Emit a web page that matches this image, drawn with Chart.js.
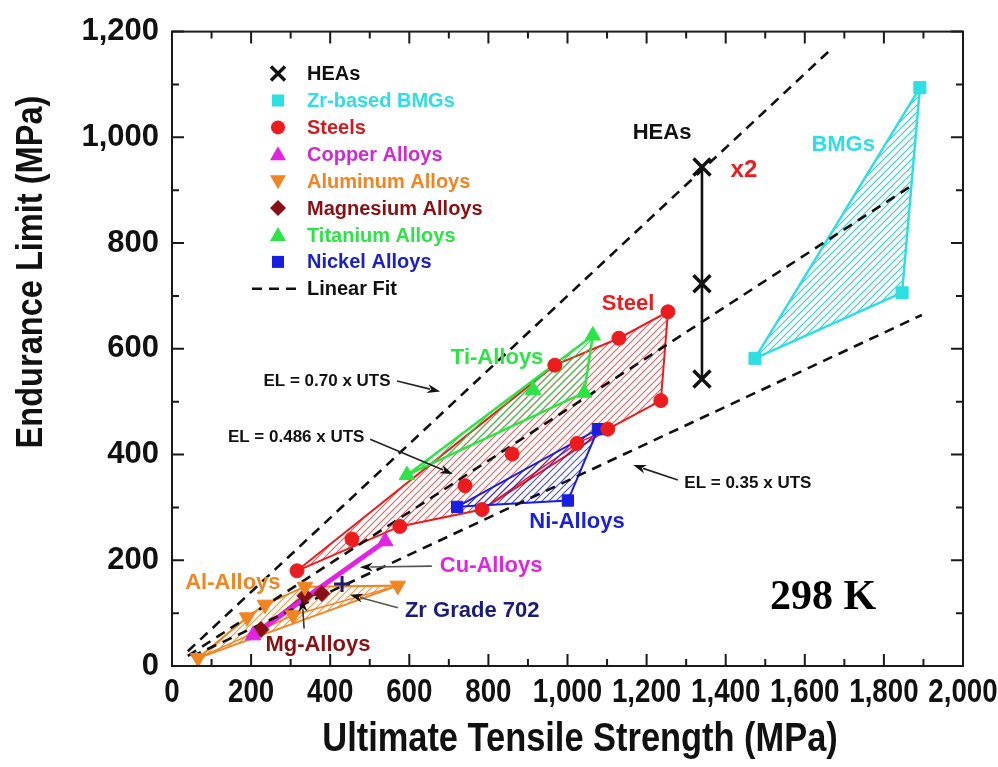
<!DOCTYPE html>
<html>
<head>
<meta charset="utf-8">
<script src="https://cdn.jsdelivr.net/npm/chart.js@4.4.1/dist/chart.umd.min.js"></script>
<style>
html, body { margin: 0; padding: 0; background: #fff; }
canvas { display: block; }
</style>
</head>
<body>
<canvas id="grafica" width="998" height="767"></canvas>
<script>
// Resistencia a la traccion (UTS) y limite de fatiga (EL), en MPa
const heaUTS = [1340, 1340, 1340];
const heaEL  = [944, 723, 543];
const bmgUTS = [1474, 1846, 1891];
const bmgEL  = [582, 706, 1094];
const steelUTS = [316, 455, 576, 741, 784, 860, 968, 1024, 1102, 1130, 1236, 1254];
const steelEL  = [180, 240, 264, 341, 296, 401, 569, 421, 448, 620, 502, 670];
const cuUTS = [205, 539];
const cuEL  = [58, 236];
const alUTS = [66, 190, 235, 306, 336, 571];
const alEL  = [15, 92, 116, 96, 150, 152];
const mgUTS = [225, 336, 379];
const mgEL  = [69, 133, 137];
const tiUTS = [594, 913, 1064, 1042];
const tiEL  = [361, 522, 625, 517];
const niUTS = [721, 1001, 1077];
const niEL  = [301, 313, 448];
const zrUTS = [430];
const zrEL  = [155];

// contornos de cada familia (indices de los puntos)
const steelHull = [0, 6, 9, 11, 10, 8, 4, 2, 0];
const steelInner = [4, 7, 8];
const tiHull = [0, 2, 3, 0];
const niHull = [0, 1, 2, 0];
const alHull = [0, 1, 2, 4, 5, 0];
const alInner = [0, 3, 5];
const bmgHull = [0, 1, 2, 0];

// ajustes lineales (extremos)
const fitNames = ['EL = 0.70 x UTS', 'EL = 0.486 x UTS', 'EL = 0.35 x UTS'];
const fitUTS = [[40, 1664], [40, 1873], [50, 1896]];
const fitEL  = [[28, 1165], [19, 910], [18, 664]];

// ejes
const xTicks = [0, 200, 400, 600, 800, 1000, 1200, 1400, 1600, 1800, 2000];
const yTicks = [0, 200, 400, 600, 800, 1000, 1200];

const NEGRO = '#111111';
const CIAN = 'rgb(45,222,226)';
const ROJO = 'rgb(236,28,30)';
const MAGENTA = 'rgb(226,36,226)';
const NARANJA = 'rgb(242,132,34)';
const GRANATE = 'rgb(136,16,20)';
const VERDE = 'rgb(44,228,70)';
const AZUL = 'rgb(24,30,226)';
const MARINO = 'rgb(28,28,120)';
const FUENTE = '"Liberation Sans", Arial, Helvetica, sans-serif';

function pts(xs, ys, idx) {
    if (!idx) idx = xs.map((v, i) => i);
    return idx.map(i => ({ x: xs[i], y: ys[i] }));
}

function rayado(color) {
    var s = 7;
    var c = document.createElement('canvas');
    c.width = s; c.height = s;
    var g = c.getContext('2d');
    g.strokeStyle = color;
    g.lineWidth = 1.1;
    g.beginPath();
    g.moveTo(0, s); g.lineTo(s, 0);
    g.moveTo(-1, 1); g.lineTo(1, -1);
    g.moveTo(s - 1, s + 1); g.lineTo(s + 1, s - 1);
    g.stroke();
    return g.createPattern(c, 'repeat');
}

function marcadores(label, xs, ys, estilo, color, radio, extra) {
    return Object.assign({
        label: label,
        data: pts(xs, ys),
        showLine: false,
        pointStyle: estilo,
        pointRadius: radio,
        pointBackgroundColor: color,
        pointBorderColor: color,
        pointBorderWidth: 1
    }, extra || {});
}

function contorno(xs, ys, idx, color, ancho, relleno) {
    return {
        label: '',
        data: pts(xs, ys, idx),
        borderColor: color,
        borderWidth: ancho,
        pointRadius: 0,
        fill: relleno ? 'shape' : false,
        backgroundColor: relleno || 'transparent'
    };
}

var datasets = [
    marcadores('HEAs', heaUTS, heaEL, 'crossRot', NEGRO, 12, { pointBorderWidth: 3.5 }),
    marcadores('Zr-based BMGs', bmgUTS, bmgEL, 'rect', CIAN, 8.5),
    marcadores('Steels', steelUTS, steelEL, 'circle', ROJO, 7),
    marcadores('Copper Alloys', cuUTS, cuEL, 'triangle', MAGENTA, 9),
    marcadores('Aluminum Alloys', alUTS, alEL, 'triangle', NARANJA, 9, { pointRotation: 180 }),
    marcadores('Magnesium Alloys', mgUTS, mgEL, 'rectRot', GRANATE, 8),
    marcadores('Titanium Alloys', tiUTS, tiEL, 'triangle', VERDE, 9),
    marcadores('Nickel Alloys', niUTS, niEL, 'rect', AZUL, 8),
    marcadores('Zr Grade 702', zrUTS, zrEL, 'cross', MARINO, 8, { pointBorderWidth: 3 })
];
for (var i = 0; i < fitNames.length; i++) {
    datasets.push({
        label: fitNames[i],
        data: pts(fitUTS[i], fitEL[i]),
        borderColor: NEGRO,
        borderWidth: 2.6,
        borderDash: [10, 7],
        pointRadius: 0,
        fill: false
    });
}
datasets.push(contorno(heaUTS, heaEL, null, NEGRO, 2.6, null));
datasets.push(contorno(cuUTS, cuEL, null, MAGENTA, 5, null));
datasets.push(contorno(mgUTS, mgEL, null, GRANATE, 3, null));
datasets.push(contorno(alUTS, alEL, alInner, NARANJA, 1.5, null));
datasets.push(contorno(alUTS, alEL, alHull, NARANJA, 2, rayado('rgba(242,132,34,0.85)')));
datasets.push(contorno(tiUTS, tiEL, tiHull, VERDE, 2.5, rayado('rgba(44,200,70,0.9)')));
datasets.push(contorno(niUTS, niEL, niHull, AZUL, 2, rayado('rgba(24,30,226,0.8)')));
datasets.push(contorno(steelUTS, steelEL, steelInner, ROJO, 1.5, null));
datasets.push(contorno(steelUTS, steelEL, steelHull, ROJO, 2, rayado('rgba(220,40,40,0.75)')));
datasets.push(contorno(bmgUTS, bmgEL, bmgHull, CIAN, 2.5, rayado('rgba(40,200,205,0.95)')));

// textos dentro de la grafica (en unidades de los datos)
var rotulos = [
    { t: 'EL = 0.70 x UTS', x: 392, y: 539, c: NEGRO, s: 17 },
    { t: 'EL = 0.486 x UTS', x: 314, y: 433, c: NEGRO, s: 17 },
    { t: 'EL = 0.35 x UTS', x: 1456, y: 346, c: NEGRO, s: 17 },
    { t: 'Cu-Alloys', x: 807, y: 189, c: MAGENTA, s: 22 },
    { t: 'Zr Grade 702', x: 759, y: 105, c: MARINO, s: 22 },
    { t: 'Al-Alloys', x: 154, y: 157, c: NARANJA, s: 22 },
    { t: 'Mg-Alloys', x: 369, y: 39, c: GRANATE, s: 22 },
    { t: 'Ti-Alloys', x: 822, y: 582, c: VERDE, s: 22 },
    { t: 'Steel', x: 1153, y: 685, c: ROJO, s: 22 },
    { t: 'Ni-Alloys', x: 1024, y: 273, c: AZUL, s: 22 },
    { t: 'BMGs', x: 1697, y: 985, c: CIAN, s: 22 },
    { t: 'HEAs', x: 1239, y: 1009, c: NEGRO, s: 22 },
    { t: 'x2', x: 1446, y: 938, c: ROJO, s: 24 }
];
var flechas = [
    { a: [569, 539], b: [678, 519], c: '#222' },
    { a: [501, 429], b: [710, 363], c: '#222' },
    { a: [1279, 352], b: [1166, 380], c: '#222' },
    { a: [657, 189], b: [475, 187], c: '#555' },
    { a: [571, 110], b: [450, 135], c: '#555' },
    { a: [334, 71], b: [329, 127], c: '#333' }
];
var leyenda = [
    { t: 'HEAs', m: 'x', c: NEGRO, tc: NEGRO },
    { t: 'Zr-based BMGs', m: 'cuadro', c: CIAN, tc: CIAN },
    { t: 'Steels', m: 'circulo', c: ROJO, tc: 'rgb(205,28,32)' },
    { t: 'Copper Alloys', m: 'triArriba', c: MAGENTA, tc: 'rgb(210,40,210)' },
    { t: 'Aluminum Alloys', m: 'triAbajo', c: NARANJA, tc: NARANJA },
    { t: 'Magnesium Alloys', m: 'rombo', c: GRANATE, tc: GRANATE },
    { t: 'Titanium Alloys', m: 'triArriba', c: VERDE, tc: VERDE },
    { t: 'Nickel Alloys', m: 'cuadro', c: AZUL, tc: 'rgb(28,32,200)' },
    { t: 'Linear Fit', m: 'guiones', c: NEGRO, tc: NEGRO }
];

function marcador(ctx, tipo, x, y, color) {
    ctx.save();
    ctx.fillStyle = color;
    ctx.strokeStyle = color;
    ctx.beginPath();
    if (tipo == 'x') {
        ctx.lineWidth = 3.5;
        ctx.moveTo(x - 7, y - 7); ctx.lineTo(x + 7, y + 7);
        ctx.moveTo(x + 7, y - 7); ctx.lineTo(x - 7, y + 7);
        ctx.stroke();
    } else if (tipo == 'cuadro') {
        ctx.fillRect(x - 6, y - 6, 12, 12);
    } else if (tipo == 'circulo') {
        ctx.arc(x, y, 7, 0, Math.PI * 2); ctx.fill();
    } else if (tipo == 'triArriba') {
        ctx.moveTo(x, y - 8); ctx.lineTo(x + 8, y + 6); ctx.lineTo(x - 8, y + 6); ctx.closePath(); ctx.fill();
    } else if (tipo == 'triAbajo') {
        ctx.moveTo(x, y + 8); ctx.lineTo(x + 8, y - 6); ctx.lineTo(x - 8, y - 6); ctx.closePath(); ctx.fill();
    } else if (tipo == 'rombo') {
        ctx.moveTo(x, y - 8); ctx.lineTo(x + 8, y); ctx.lineTo(x, y + 8); ctx.lineTo(x - 8, y); ctx.closePath(); ctx.fill();
    } else if (tipo == 'guiones') {
        ctx.lineWidth = 2.5;
        ctx.setLineDash([10, 7]);
        ctx.moveTo(x - 26, y); ctx.lineTo(x + 24, y);
        ctx.stroke();
    }
    ctx.restore();
}

function textoEstrecho(ctx, texto, x, y, sx) {
    ctx.save();
    ctx.translate(x, y);
    ctx.scale(sx, 1);
    ctx.fillText(texto, 0, 0);
    ctx.restore();
}

function flecha(ctx, x1, y1, x2, y2, color) {
    var ang = Math.atan2(y2 - y1, x2 - x1);
    var L = 13, W = 4.5;
    ctx.save();
    ctx.strokeStyle = color;
    ctx.lineWidth = 1.6;
    ctx.beginPath();
    ctx.moveTo(x1, y1);
    ctx.lineTo(x2 - Math.cos(ang) * L * 0.8, y2 - Math.sin(ang) * L * 0.8);
    ctx.stroke();
    ctx.fillStyle = '#111';
    ctx.beginPath();
    ctx.moveTo(x2, y2);
    ctx.lineTo(x2 - Math.cos(ang) * L - Math.sin(ang) * W, y2 - Math.sin(ang) * L + Math.cos(ang) * W);
    ctx.lineTo(x2 - Math.cos(ang) * L * 0.7, y2 - Math.sin(ang) * L * 0.7);
    ctx.lineTo(x2 - Math.cos(ang) * L + Math.sin(ang) * W, y2 - Math.sin(ang) * L - Math.cos(ang) * W);
    ctx.closePath();
    ctx.fill();
    ctx.restore();
}

const decorado = {
    id: 'decorado',
    afterDraw(chart) {
        var ctx = chart.ctx, a = chart.chartArea;
        var sx = chart.scales.x, sy = chart.scales.y;
        var px = v => sx.getPixelForValue(v), py = v => sy.getPixelForValue(v);
        ctx.save();

        // marco y marcas hacia dentro
        ctx.strokeStyle = '#1a1a1a';
        ctx.lineWidth = 2;
        ctx.strokeRect(a.left, a.top, a.right - a.left, a.bottom - a.top);
        ctx.beginPath();
        for (var i = 0; i < xTicks.length; i++) {
            var x = px(xTicks[i]);
            ctx.moveTo(x, a.bottom); ctx.lineTo(x, a.bottom - 12);
            ctx.moveTo(x, a.top); ctx.lineTo(x, a.top + 12);
            if (i < xTicks.length - 1) {
                var xm = px((xTicks[i] + xTicks[i + 1]) / 2);
                ctx.moveTo(xm, a.bottom); ctx.lineTo(xm, a.bottom - 7);
                ctx.moveTo(xm, a.top); ctx.lineTo(xm, a.top + 7);
            }
        }
        for (var j = 0; j < yTicks.length; j++) {
            var y = py(yTicks[j]);
            ctx.moveTo(a.left, y); ctx.lineTo(a.left + 12, y);
            ctx.moveTo(a.right, y); ctx.lineTo(a.right - 12, y);
            if (j < yTicks.length - 1) {
                var ym = py((yTicks[j] + yTicks[j + 1]) / 2);
                ctx.moveTo(a.left, ym); ctx.lineTo(a.left + 7, ym);
                ctx.moveTo(a.right, ym); ctx.lineTo(a.right - 7, ym);
            }
        }
        ctx.stroke();

        // etiquetas del eje x (tipo estrecho)
        ctx.fillStyle = '#111';
        ctx.textAlign = 'center';
        ctx.textBaseline = 'middle';
        ctx.font = 'bold 33px ' + FUENTE;
        for (var k = 0; k < xTicks.length; k++) {
            textoEstrecho(ctx, xTicks[k].toLocaleString('en-US'), px(xTicks[k]), a.bottom + 27, 0.84);
        }
        // titulos de los ejes
        ctx.font = 'bold 40px ' + FUENTE;
        textoEstrecho(ctx, 'Ultimate Tensile Strength (MPa)', 580, a.bottom + 74, 0.86);
        ctx.save();
        ctx.translate(32, 272);
        ctx.rotate(-Math.PI / 2);
        ctx.font = 'bold 37px ' + FUENTE;
        textoEstrecho(ctx, 'Endurance Limit (MPa)', 0, 0, 0.88);
        ctx.restore();

        // flechas y rotulos
        flechas.forEach(f => flecha(ctx, px(f.a[0]), py(f.a[1]), px(f.b[0]), py(f.b[1]), f.c));
        rotulos.forEach(r => {
            ctx.font = 'bold ' + r.s + 'px ' + FUENTE;
            ctx.fillStyle = r.c;
            ctx.fillText(r.t, px(r.x), py(r.y));
        });
        ctx.font = 'bold 42px "Liberation Serif", "Times New Roman", serif';
        ctx.fillStyle = '#000';
        ctx.fillText('298 K', px(1646), py(129));

        // leyenda
        ctx.textAlign = 'left';
        ctx.font = 'bold 20px ' + FUENTE;
        leyenda.forEach((e, n) => {
            var yy = a.top + 42 + n * 26.9;
            marcador(ctx, e.m, a.left + 106, yy, e.c);
            ctx.fillStyle = e.tc;
            ctx.fillText(e.t, a.left + 135, yy + 1);
        });
        ctx.restore();
    }
};

var grafica = new Chart(document.getElementById('grafica'), {
    type: 'line',
    data: { datasets: datasets },
    options: {
        responsive: false,
        animation: false,
        events: [],
        devicePixelRatio: 1,
        layout: { padding: { left: 0, right: 35, top: 25, bottom: 0 } },
        scales: {
            x: {
                type: 'linear',
                min: 0,
                max: 2000,
                grid: { display: false },
                border: { display: false },
                ticks: { display: false, stepSize: 200 },
                afterFit: function (scale) { scale.height = 101; }
            },
            y: {
                type: 'linear',
                min: 0,
                max: 1200,
                grid: { display: false, drawTicks: false },
                border: { display: false },
                ticks: {
                    stepSize: 200,
                    padding: 13,
                    color: '#111',
                    font: { family: FUENTE, size: 31, weight: 'bold' },
                    callback: function (value) { return value.toLocaleString('en-US'); }
                },
                afterFit: function (scale) { scale.width = 172; }
            }
        },
        plugins: {
            legend: { display: false },
            tooltip: { enabled: false },
            title: { display: false }
        }
    },
    plugins: [decorado]
});
</script>
</body>
</html>
